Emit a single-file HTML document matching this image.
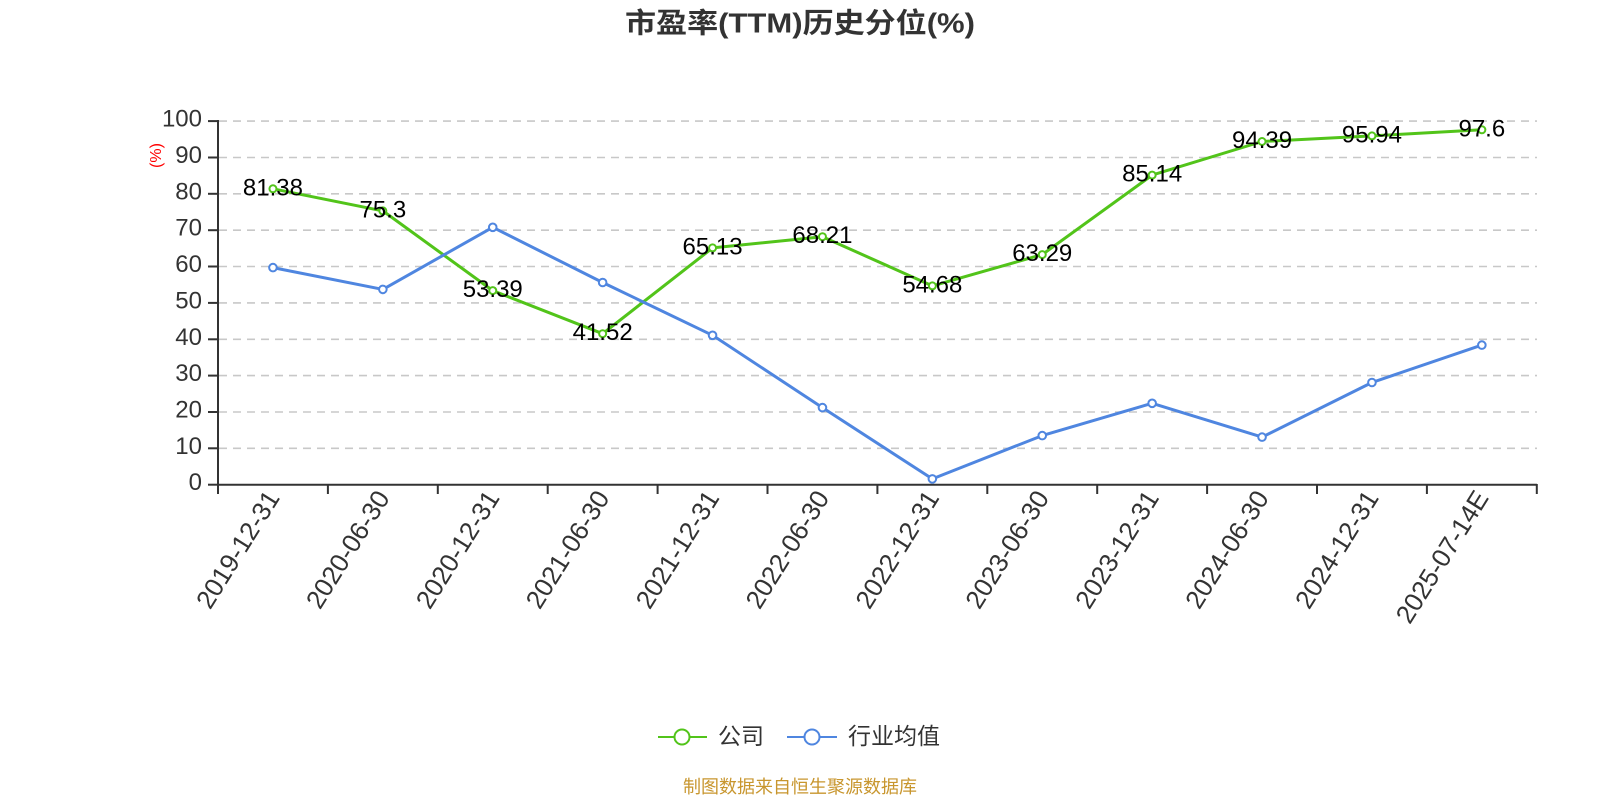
<!DOCTYPE html>
<html>
<head>
<meta charset="utf-8">
<style>
html,body{margin:0;padding:0;background:#fff;}
svg{display:block;}
text{font-family:"Liberation Sans","Noto Sans CJK SC",sans-serif;}
</style>
</head>
<body>
<svg width="1600" height="800" viewBox="0 0 1600 800" xmlns="http://www.w3.org/2000/svg">
<rect width="1600" height="800" fill="#fff"/>
<!-- title -->
<text x="800" y="23" text-anchor="middle" dominant-baseline="central" font-size="28" font-weight="bold" fill="#333" textLength="350" lengthAdjust="spacingAndGlyphs">市盈率(TTM)历史分位(%)</text>

<!-- gridlines -->
<g stroke="#c8c8c8" stroke-width="1.6" stroke-dasharray="8 6" fill="none">
<line x1="219" y1="448.3" x2="1537" y2="448.3"/>
<line x1="219" y1="412.0" x2="1537" y2="412.0"/>
<line x1="219" y1="375.6" x2="1537" y2="375.6"/>
<line x1="219" y1="339.3" x2="1537" y2="339.3"/>
<line x1="219" y1="302.9" x2="1537" y2="302.9"/>
<line x1="219" y1="266.5" x2="1537" y2="266.5"/>
<line x1="219" y1="230.2" x2="1537" y2="230.2"/>
<line x1="219" y1="193.8" x2="1537" y2="193.8"/>
<line x1="219" y1="157.5" x2="1537" y2="157.5"/>
<line x1="219" y1="121.1" x2="1537" y2="121.1"/>
</g>

<!-- axes -->
<g stroke="#333" stroke-width="2" fill="none">
<line x1="218" y1="120" x2="218" y2="485"/>
<line x1="217" y1="484.7" x2="1537" y2="484.7"/>
<line x1="208" y1="484.7" x2="218" y2="484.7"/>
<line x1="208" y1="448.3" x2="218" y2="448.3"/>
<line x1="208" y1="412.0" x2="218" y2="412.0"/>
<line x1="208" y1="375.6" x2="218" y2="375.6"/>
<line x1="208" y1="339.3" x2="218" y2="339.3"/>
<line x1="208" y1="302.9" x2="218" y2="302.9"/>
<line x1="208" y1="266.5" x2="218" y2="266.5"/>
<line x1="208" y1="230.2" x2="218" y2="230.2"/>
<line x1="208" y1="193.8" x2="218" y2="193.8"/>
<line x1="208" y1="157.5" x2="218" y2="157.5"/>
<line x1="208" y1="121.1" x2="218" y2="121.1"/>
<line x1="218" y1="484" x2="218" y2="494"/>
<line x1="327.9" y1="484" x2="327.9" y2="494"/>
<line x1="437.8" y1="484" x2="437.8" y2="494"/>
<line x1="547.7" y1="484" x2="547.7" y2="494"/>
<line x1="657.6" y1="484" x2="657.6" y2="494"/>
<line x1="767.5" y1="484" x2="767.5" y2="494"/>
<line x1="877.4" y1="484" x2="877.4" y2="494"/>
<line x1="987.3" y1="484" x2="987.3" y2="494"/>
<line x1="1097.2" y1="484" x2="1097.2" y2="494"/>
<line x1="1207.1" y1="484" x2="1207.1" y2="494"/>
<line x1="1317" y1="484" x2="1317" y2="494"/>
<line x1="1426.9" y1="484" x2="1426.9" y2="494"/>
<line x1="1536.8" y1="484" x2="1536.8" y2="494"/>
</g>

<!-- y tick labels -->
<g font-size="24" fill="#333" text-anchor="end">
<text x="202" y="490.2">0</text>
<text x="202" y="453.8">10</text>
<text x="202" y="417.5">20</text>
<text x="202" y="381.1">30</text>
<text x="202" y="344.8">40</text>
<text x="202" y="308.4">50</text>
<text x="202" y="272.0">60</text>
<text x="202" y="235.7">70</text>
<text x="202" y="199.3">80</text>
<text x="202" y="163.0">90</text>
<text x="202" y="126.6">100</text>
</g>
<text transform="translate(156.5,155.5) rotate(-90)" text-anchor="middle" dominant-baseline="central" font-size="16" fill="#ff0000">(%)</text>

<!-- x labels -->
<g font-size="26" fill="#333" text-anchor="end" dominant-baseline="central">
<text transform="translate(272.95,493) rotate(-58)">2019-12-31</text>
<text transform="translate(382.85,493) rotate(-58)">2020-06-30</text>
<text transform="translate(492.75,493) rotate(-58)">2020-12-31</text>
<text transform="translate(602.65,493) rotate(-58)">2021-06-30</text>
<text transform="translate(712.55,493) rotate(-58)">2021-12-31</text>
<text transform="translate(822.45,493) rotate(-58)">2022-06-30</text>
<text transform="translate(932.35,493) rotate(-58)">2022-12-31</text>
<text transform="translate(1042.25,493) rotate(-58)">2023-06-30</text>
<text transform="translate(1152.15,493) rotate(-58)">2023-12-31</text>
<text transform="translate(1262.05,493) rotate(-58)">2024-06-30</text>
<text transform="translate(1371.95,493) rotate(-58)">2024-12-31</text>
<text transform="translate(1481.85,493) rotate(-58)">2025-07-14E</text>
</g>

<!-- green series -->
<polyline fill="none" stroke="#52c41a" stroke-width="3" stroke-linejoin="round"
 points="272.95,188.8 382.85,210.9 492.75,290.6 602.65,333.7 712.55,247.9 822.45,236.7 932.35,285.9 1042.25,254.6 1152.15,175.1 1262.05,141.5 1371.95,135.9 1481.85,129.8"/>
<g fill="#fff" stroke="#52c41a" stroke-width="2">
<circle cx="272.95" cy="188.8" r="3.5"/>
<circle cx="382.85" cy="210.9" r="3.5"/>
<circle cx="492.75" cy="290.6" r="3.5"/>
<circle cx="602.65" cy="333.7" r="3.5"/>
<circle cx="712.55" cy="247.9" r="3.5"/>
<circle cx="822.45" cy="236.7" r="3.5"/>
<circle cx="932.35" cy="285.9" r="3.5"/>
<circle cx="1042.25" cy="254.6" r="3.5"/>
<circle cx="1152.15" cy="175.1" r="3.5"/>
<circle cx="1262.05" cy="141.5" r="3.5"/>
<circle cx="1371.95" cy="135.9" r="3.5"/>
<circle cx="1481.85" cy="129.8" r="3.5"/>
</g>

<!-- blue series -->
<polyline fill="none" stroke="#4f86e0" stroke-width="3" stroke-linejoin="round"
 points="272.95,267.6 382.85,289.4 492.75,227.3 602.65,282.5 712.55,335.3 822.45,407.6 932.35,478.9 1042.25,435.6 1152.15,403.3 1262.05,437.1 1371.95,382.5 1481.85,345.1"/>
<g fill="#fff" stroke="#4f86e0" stroke-width="2">
<circle cx="272.95" cy="267.6" r="3.8"/>
<circle cx="382.85" cy="289.4" r="3.8"/>
<circle cx="492.75" cy="227.3" r="3.8"/>
<circle cx="602.65" cy="282.5" r="3.8"/>
<circle cx="712.55" cy="335.3" r="3.8"/>
<circle cx="822.45" cy="407.6" r="3.8"/>
<circle cx="932.35" cy="478.9" r="3.8"/>
<circle cx="1042.25" cy="435.6" r="3.8"/>
<circle cx="1152.15" cy="403.3" r="3.8"/>
<circle cx="1262.05" cy="437.1" r="3.8"/>
<circle cx="1371.95" cy="382.5" r="3.8"/>
<circle cx="1481.85" cy="345.1" r="3.8"/>
</g>

<!-- data labels -->
<g font-size="24" fill="#000" text-anchor="middle">
<text x="272.95" y="195.3">81.38</text>
<text x="382.85" y="217.4">75.3</text>
<text x="492.75" y="297.1">53.39</text>
<text x="602.65" y="340.2">41.52</text>
<text x="712.55" y="254.4">65.13</text>
<text x="822.45" y="243.2">68.21</text>
<text x="932.35" y="292.4">54.68</text>
<text x="1042.25" y="261.1">63.29</text>
<text x="1152.15" y="181.6">85.14</text>
<text x="1262.05" y="148.0">94.39</text>
<text x="1371.95" y="142.4">95.94</text>
<text x="1481.85" y="136.3">97.6</text>
</g>

<!-- legend -->
<line x1="658" y1="737" x2="707" y2="737" stroke="#52c41a" stroke-width="2"/>
<circle cx="682" cy="737" r="7.5" fill="#fff" stroke="#52c41a" stroke-width="2"/>
<text x="718" y="736" font-size="23" fill="#333" dominant-baseline="central">公司</text>
<line x1="787" y1="737" x2="837" y2="737" stroke="#4f86e0" stroke-width="2"/>
<circle cx="812" cy="737" r="7.5" fill="#fff" stroke="#4f86e0" stroke-width="2"/>
<text x="848" y="736" font-size="23" fill="#333" dominant-baseline="central">行业均值</text>

<!-- footer -->
<text x="800" y="787" text-anchor="middle" dominant-baseline="central" font-size="18" fill="#c8962e">制图数据来自恒生聚源数据库</text>
</svg>
</body>
</html>
